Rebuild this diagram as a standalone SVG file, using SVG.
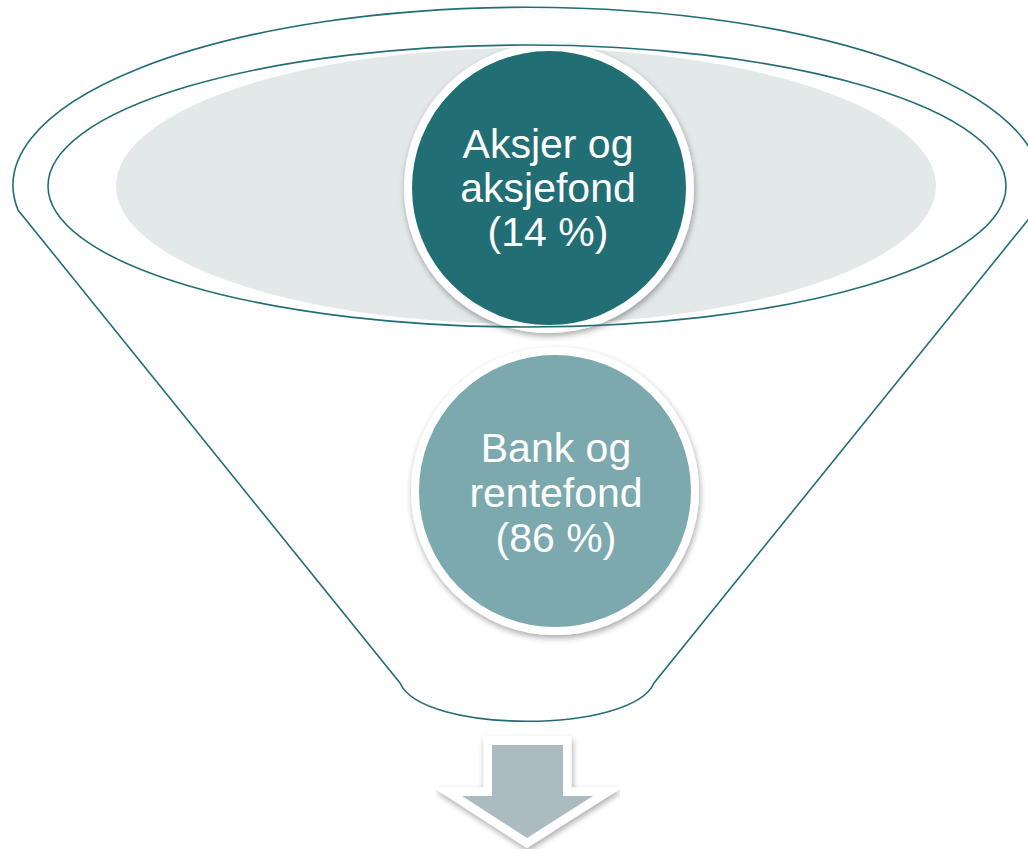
<svg xmlns="http://www.w3.org/2000/svg" width="1028" height="849" viewBox="0 0 1028 849">
<style>
.line{fill:none;stroke:#236E74;stroke-width:1.6}
.lbl{font-family:"Liberation Sans",Arial,sans-serif;font-size:41px;fill:#FFFFFF;text-anchor:middle}
</style>
<defs>
<filter id="sh" x="-20%" y="-20%" width="140%" height="140%">
<feGaussianBlur in="SourceAlpha" stdDeviation="3"/>
<feOffset dx="1" dy="3" result="b"/>
<feComponentTransfer><feFuncA type="linear" slope="0.35"/></feComponentTransfer>
<feMerge><feMergeNode/><feMergeNode in="SourceGraphic"/></feMerge>
</filter>
</defs>
<rect width="1028" height="849" fill="#FFFFFF"/>
<g id="funnel">
<path class="line" style="fill:#FFFFFF" d="M 18 210 A 514 178 0 1 1 1036 210 L 654 683 C 632 734 422 734 400 683 Z"/>
<ellipse cx="526" cy="186" rx="410" ry="138" fill="#E3E9E9"/>
</g>
<g id="node-aksjer">
<circle cx="549" cy="188" r="141" fill="#236E74" stroke="#FFFFFF" stroke-width="8" filter="url(#sh)"/>
<text class="lbl" x="548" y="158">Aksjer og</text>
<text class="lbl" x="548" y="202">aksjefond</text>
<text class="lbl" x="548" y="246">(14 %)</text>
</g>
<g id="funnel-rim">
<ellipse class="line" cx="527" cy="186" rx="479" ry="141"/>
</g>
<g id="node-bank">
<circle cx="555" cy="491" r="140" fill="#7CA9AE" stroke="#FFFFFF" stroke-width="8" filter="url(#sh)"/>
<text class="lbl" x="556" y="462">Bank og</text>
<text class="lbl" x="556" y="507">rentefond</text>
<text class="lbl" x="556" y="552">(86 %)</text>
</g>
<g id="connectors">
<path d="M 492 745 L 563 745 L 563 796 L 593 796 L 527 838 L 462 796 L 492 796 Z" fill="#FFFFFF" stroke="#FFFFFF" stroke-width="17" stroke-linejoin="miter" stroke-miterlimit="6" filter="url(#sh)"/>
<path d="M 492 745 L 563 745 L 563 796 L 593 796 L 527 838 L 462 796 L 492 796 Z" fill="#ACBBBF"/>
</g>
</svg>
